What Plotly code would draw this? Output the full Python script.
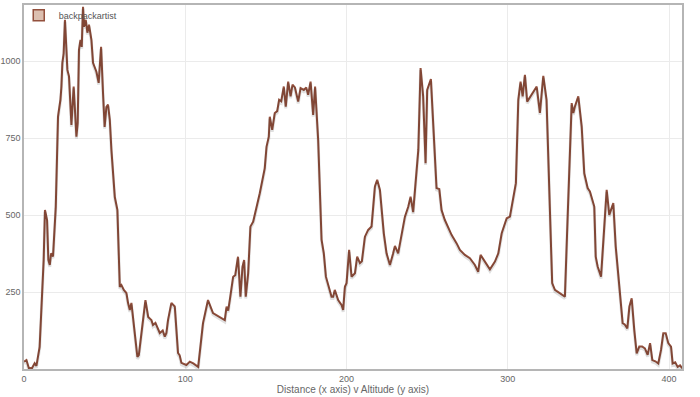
import plotly.graph_objects as go

# Distance (x) and altitude (y)
distance = [0, 1.5, 3, 5, 6.6, 7.7, 9.7, 10.8, 12.2, 13, 14.3, 15.1, 16, 16.8, 18, 19.7,
            21.1, 21.7, 22.6, 23.2, 23.8, 24.6, 25.4, 26.3, 26.9, 27.9, 29.4, 30.8, 32.5,
            33.3, 34.1, 35, 35.8, 36.6, 37.2, 38.3, 39.3, 40.3, 41.8, 42.8, 44.9, 46.3,
            47.8, 49, 50, 51.1, 52.1, 53.2, 54.2, 56.3, 57.9, 59.4, 60.4, 61.9, 63.5,
            64.5, 65.6, 66.6, 67.6, 68.7, 70.3, 71.2, 72.8, 75.3, 77, 79, 80, 81.5, 84.2,
            86, 87.3, 88.3, 89.3, 91.4, 93.5, 94.5, 95.5, 96.5, 97.6, 100.7, 102.8, 105,
            108, 111, 114.1, 117.2, 121.4, 124.5, 125.6, 126.6, 127.6, 128.6, 129.7, 131,
            132.7, 134.2, 135.5, 136.5, 137.5, 139, 140.4, 142.1, 146.2, 149.3, 150.4,
            151.8, 152.4, 153.9, 155.5, 157, 158.2, 159.5, 161.1, 162.3, 163.8, 165.3,
            166.5, 168, 170, 171.5, 173.5, 175, 176.2, 177.7, 179.3, 180.5, 182.4, 184.5,
            185.9, 187.2, 188.6, 189.6, 190.7, 191.7, 192.7, 194.8, 196.9, 197.9, 199,
            200, 201.6, 203.1, 205.2, 206.6, 208.3, 209.5, 211.4, 213.4, 215.5, 217.6,
            219, 220.7, 221.7, 223.1, 224.8, 226.9, 228.9, 230, 232, 234.1, 236.2, 238.3,
            239.7, 241.3, 243.4, 244.5, 245.9, 247.5, 249, 250, 252.3, 254.2, 255.8,
            257.5, 258.9, 260.9, 263, 265.1, 268.2, 270.3, 273.4, 276.5, 279.6, 281.6,
            283.1, 285.2, 287, 288.9, 292, 294.1, 296.2, 299.3, 301.3, 303.3, 305, 306.5,
            307.9, 309.2, 310.6, 312, 314.8, 317.9, 319.9, 322, 324, 326.1, 327.5, 329.2,
            332.3, 335.4, 337.1, 338.5, 339.6, 340.6, 341.6, 343.7, 345.8, 347.4, 349.5,
            350.9, 352, 353.6, 354.5, 355.7, 357.8, 359.2, 361.3, 362.9, 365.4, 366.9,
            369.5, 371.2, 372.5, 374.1, 375.4, 376.8, 378.4, 379.9, 381.5, 383.3, 385,
            386.7, 388.2, 389.6, 391.5, 393.3, 395, 396.4, 397.9, 399.5, 401.2, 402.2,
            403.8, 405.3, 406.8, 408.2]
altitude = [24, 29, 3, 3, 19, 10, 72, 203, 355, 517, 484, 355, 338, 376, 366, 527,
            820, 843, 875, 918, 995, 1026, 1135, 1037, 972, 951, 793, 918, 755,
            800, 1037, 1070, 1047, 1177, 1112, 1135, 1093, 1119, 1070, 995, 966, 930,
            1047, 897, 787, 852, 859, 810, 712, 559, 517, 267, 273, 257, 247,
            215, 192, 215, 170, 127, 39, 45, 117, 224, 169, 159, 143, 150, 117,
            125, 105, 117, 159, 215, 203, 138, 52, 45, 20, 13, 24, 18,
            7, 149, 224, 182, 170, 159, 203, 190, 224, 257, 300, 305,
            365, 235, 333, 354, 235, 311, 463, 479, 571, 653, 723,
            755, 820, 777, 832, 838, 875, 870, 918, 853, 934, 886,
            924, 915, 869, 913, 907, 915, 891, 934, 826, 918, 745, 420,
            376, 300, 273, 257, 235, 235, 257, 224, 208, 192, 268,
            279, 387, 300, 311, 365, 344, 350, 430, 452, 463, 593,
            615, 582, 528, 441, 376, 338, 376, 400, 376, 441, 495, 528,
            560, 510, 636, 712, 978, 886, 669, 907, 942, 745, 588,
            585, 517, 485, 463, 436, 409, 387, 371, 360, 338, 316,
            371, 354, 340, 324, 349, 376, 441, 490, 495, 550, 604, 875,
            934, 886, 956, 869, 891, 918, 832, 953, 875, 550, 279, 257,
            246, 235, 495, 680, 864, 832, 853, 886, 788, 636, 588,
            577, 560, 528, 365, 333, 300, 420, 582, 501, 539, 398,
            257, 149, 145, 132, 203, 230, 127, 51, 73, 73, 67,
            46, 84, 29, 25, 18, 62, 116, 116, 84, 73, 18,
            22, 7, 12, 2]

series_name = "backpackartist"
x_ticks = [0, 100, 200, 300, 400]
y_ticks = [250, 500, 750, 1000]
x_title = "Distance (x axis) v Altitude (y axis)"

line_color = "#93503d"
grid_color = "#ebebeb"
text_color = "#666666"
FONT = "Liberation Sans, Arial, sans-serif"

Y_MAX = 1183
SHADOW_SHIFT = 6  # data units, ~2px

fig = go.Figure()
# soft shadow under the line (drawn on an overlaid, slightly shifted axis)
fig.add_trace(go.Scatter(x=distance, y=altitude, mode="lines", yaxis="y2",
                         line=dict(color="rgba(0,0,0,0.12)", width=3),
                         hoverinfo="skip", showlegend=False))
fig.add_trace(go.Scatter(x=distance, y=altitude, mode="lines", name=series_name,
                         line=dict(color=line_color, width=2), showlegend=False))
# legend swatch
fig.add_trace(go.Scatter(x=[None], y=[None], mode="markers", name=series_name,
                         marker=dict(symbol="square", size=11, color="#dcbfb0",
                                     line=dict(color=line_color, width=1.5))))

fig.update_layout(
    width=700, height=397,
    margin=dict(l=24, r=18, t=5, b=28, autoexpand=False),
    paper_bgcolor="white", plot_bgcolor="white",
    font=dict(family=FONT, size=9, color=text_color),
    showlegend=True,
    legend=dict(x=-0.008, y=1.012, xanchor="left", yanchor="top",
                bgcolor="rgba(255,255,255,0)", font=dict(size=9, color="#545454"),
                itemwidth=30),
    xaxis=dict(range=[0, 408], tickvals=x_ticks, ticktext=[str(v) for v in x_ticks],
               showgrid=True, gridcolor=grid_color, gridwidth=1, zeroline=False,
               showline=True, linecolor="#b5b5b5", linewidth=1.5, mirror=True,
               ticks="", tickfont=dict(size=9, color=text_color), automargin=False,
               title=dict(text=x_title, font=dict(size=10, color=text_color), standoff=0)),
    yaxis=dict(range=[0, Y_MAX], tickvals=y_ticks, ticktext=[str(v) for v in y_ticks],
               showgrid=True, gridcolor=grid_color, gridwidth=1, zeroline=False,
               showline=True, linecolor="#b5b5b5", linewidth=1.5, mirror=True,
               ticks="", tickfont=dict(size=9, color=text_color), automargin=False),
    yaxis2=dict(range=[SHADOW_SHIFT, Y_MAX + SHADOW_SHIFT], overlaying="y",
                visible=False, showgrid=False),
)

fig.write_html("out.html", config={"displayModeBar": False},
               post_script="document.body.style.margin='0';")
